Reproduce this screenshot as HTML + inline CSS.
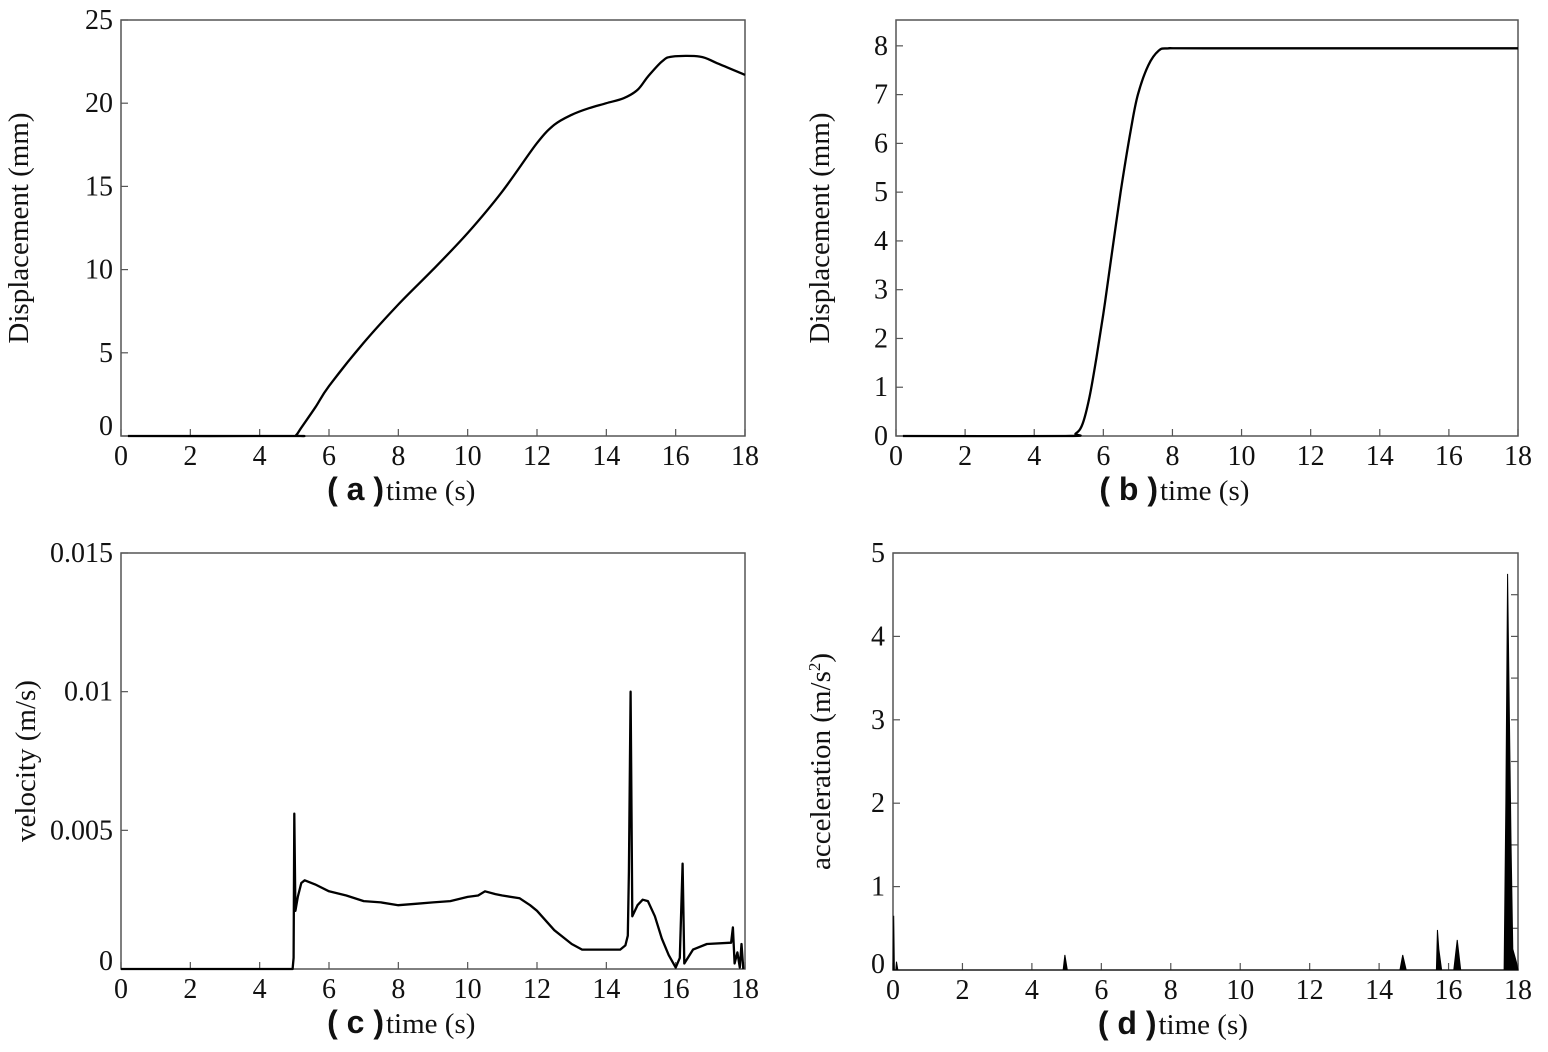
<!DOCTYPE html>
<html><head><meta charset="utf-8"><style>
html,body{margin:0;padding:0;background:#fff;}
svg{display:block;}
text{font-family:"Liberation Serif",serif;fill:#111;}
.b{font-family:"Liberation Sans",sans-serif;font-weight:bold;}
</style></head><body>
<svg id="s" width="1548" height="1052" xmlns="http://www.w3.org/2000/svg"></svg>
<script>
const S=document.getElementById('s');let h='';
function cr(pts){let d='M'+pts[0].join(',');for(let i=0;i<pts.length-1;i++){const p0=pts[Math.max(0,i-1)],p1=pts[i],p2=pts[i+1],p3=pts[Math.min(pts.length-1,i+2)];
 const c1=[p1[0]+(p2[0]-p0[0])/6,p1[1]+(p2[1]-p0[1])/6],c2=[p2[0]-(p3[0]-p1[0])/6,p2[1]-(p3[1]-p1[1])/6];
 d+=` C${c1[0].toFixed(1)},${c1[1].toFixed(1)} ${c2[0].toFixed(1)},${c2[1].toFixed(1)} ${p2[0].toFixed(1)},${p2[1].toFixed(1)}`;}return d;}
function panel(o){
 const {L,R,T,B,xmax,ymin,ymax,yt,ylab,yo,tag,data,fill,rt,smooth}=o;
 const X=x=>L+(x/xmax)*(R-L), Y=y=>B-(y-ymin)/(ymax-ymin)*(B-T);
 h+=`<rect x="${L}" y="${T}" width="${R-L}" height="${B-T}" fill="none" stroke="#555" stroke-width="1.5"/>`;
 for(let x=0;x<=18;x+=2){h+=`<line x1="${X(x)}" y1="${B}" x2="${X(x)}" y2="${B-7}" stroke="#555" stroke-width="1.2"/>`;
  h+=`<text x="${X(x)}" y="${B+29}" font-size="28" text-anchor="middle">${x}</text>`;}
 yt.forEach(([v,l,dy])=>{h+=`<line x1="${L}" y1="${Y(v)}" x2="${L+7}" y2="${Y(v)}" stroke="#555" stroke-width="1.2"/>`;
  h+=`<text x="${L-8}" y="${Y(v)+9+(dy||0)}" font-size="28" text-anchor="end">${l}</text>`;});
 if(rt){for(let v=0.5;v<ymax;v+=0.5)h+=`<line x1="${R}" y1="${Y(v)}" x2="${R-7}" y2="${Y(v)}" stroke="#555" stroke-width="1.2"/>`;}
 const cx=(L+R)/2, cy=(T+B)/2;
 h+=`<text transform="translate(${L-yo},${cy}) rotate(-90)" font-size="29" text-anchor="middle">${ylab}</text>`;
 h+=`<text x="${cx-49}" y="${B+64}" font-size="32" class="b" text-anchor="end">( ${tag} )</text>`;
 h+=`<text x="${cx-47}" y="${B+64}" font-size="29">time (s)</text>`;
 const P=data.map(([x,y])=>[X(x),Y(y)]);
 if(fill) h+=`<polygon points="${P.map(p=>p.join(',')).join(' ')}" fill="#000" stroke="#000" stroke-width="1"/>`;
 else if(smooth) h+=`<path d="${cr(P)}" fill="none" stroke="#000" stroke-width="2.3"/>`;
 else h+=`<polyline points="${P.map(p=>p[0].toFixed(1)+','+p[1].toFixed(1)).join(' ')}" fill="none" stroke="#000" stroke-width="2.3" stroke-linejoin="round"/>`;
}
panel({L:121,R:745,T:20,B:436,xmax:18,ymin:0,ymax:25,ylab:'Displacement (mm)',yo:93,tag:'a',smooth:1,
 yt:[[0,'0',-10],[5,'5'],[10,'10'],[15,'15'],[20,'20'],[25,'25']],
 data:[[0.2,0],[4.9,0],[5.05,0.05],[5.2,0.5],[5.6,1.7],[6,3],[7,5.6],[8,7.9],[9,10],[10,12.2],[11,14.7],[12,17.6],[12.5,18.7],[13,19.3],[13.5,19.7],[14,20.0],[14.5,20.3],[14.9,20.8],[15.2,21.6],[15.6,22.5],[15.9,22.8],[16.7,22.8],[17.2,22.4],[18,21.7]]});
panel({L:896,R:1518,T:20,B:436,xmax:18,ymin:0,ymax:8.53,ylab:'Displacement (mm)',yo:67,tag:'b',smooth:1,
 yt:[0,1,2,3,4,5,6,7,8].map(v=>[v,''+v]),
 data:[[0.2,0],[4.9,0],[5.2,0.05],[5.4,0.25],[5.6,0.8],[5.8,1.6],[6,2.5],[6.2,3.5],[6.5,5],[6.8,6.3],[7,7],[7.3,7.6],[7.6,7.9],[7.9,7.95],[9,7.95],[18,7.95]]});
panel({L:121,R:745,T:553,B:969,xmax:18,ymin:0,ymax:15,ylab:'velocity (m/s)',yo:86,tag:'c',
 yt:[[0,'0',-8],[5,'0.005'],[10,'0.01'],[15,'0.015']],
 data:[[0,0],[4.95,0],[4.98,0.4],[5.0,5.6],[5.03,2.1],[5.1,2.6],[5.2,3.1],[5.3,3.2],[5.6,3.05],[6,2.8],[6.5,2.65],[7,2.45],[7.5,2.4],[8,2.3],[8.5,2.35],[9,2.4],[9.5,2.45],[10,2.6],[10.3,2.65],[10.5,2.8],[10.8,2.7],[11,2.65],[11.5,2.55],[11.8,2.3],[12,2.1],[12.5,1.4],[13,0.9],[13.3,0.7],[14.4,0.7],[14.55,0.85],[14.62,1.2],[14.65,3.5],[14.7,10],[14.75,1.9],[14.9,2.3],[15.05,2.5],[15.2,2.45],[15.4,1.9],[15.6,1.1],[15.8,0.5],[16,0.05],[16.12,0.4],[16.2,3.8],[16.25,0.2],[16.5,0.7],[16.9,0.9],[17.6,0.95],[17.65,1.5],[17.7,0.2],[17.78,0.6],[17.85,0.05],[17.9,0.9],[17.95,0]]});
panel({L:893,R:1518,T:553,B:970,xmax:18,ymin:0,ymax:5,ylab:'acceleration (m/s<tspan font-size="17" dy="-10">2</tspan><tspan dy="10">)</tspan>',yo:63,tag:'d',rt:1,
 yt:[[0,'0',-6],[1,'1'],[2,'2'],[3,'3'],[4,'4'],[5,'5']],fill:1,
 data:[[0,0],[0.02,0.65],[0.04,0],[0.08,0],[0.1,0.1],[0.14,0],[4.9,0],[4.95,0.18],[5.02,0],[14.6,0],[14.68,0.18],[14.78,0],[15.65,0],[15.68,0.48],[15.72,0.25],[15.8,0],[16.15,0],[16.25,0.36],[16.35,0],[17.6,0],[17.65,2],[17.7,4.75],[17.75,3.1],[17.8,1.5],[17.85,0.25],[17.95,0.1],[18,0]]});
S.innerHTML=h;
</script>
</body></html>
